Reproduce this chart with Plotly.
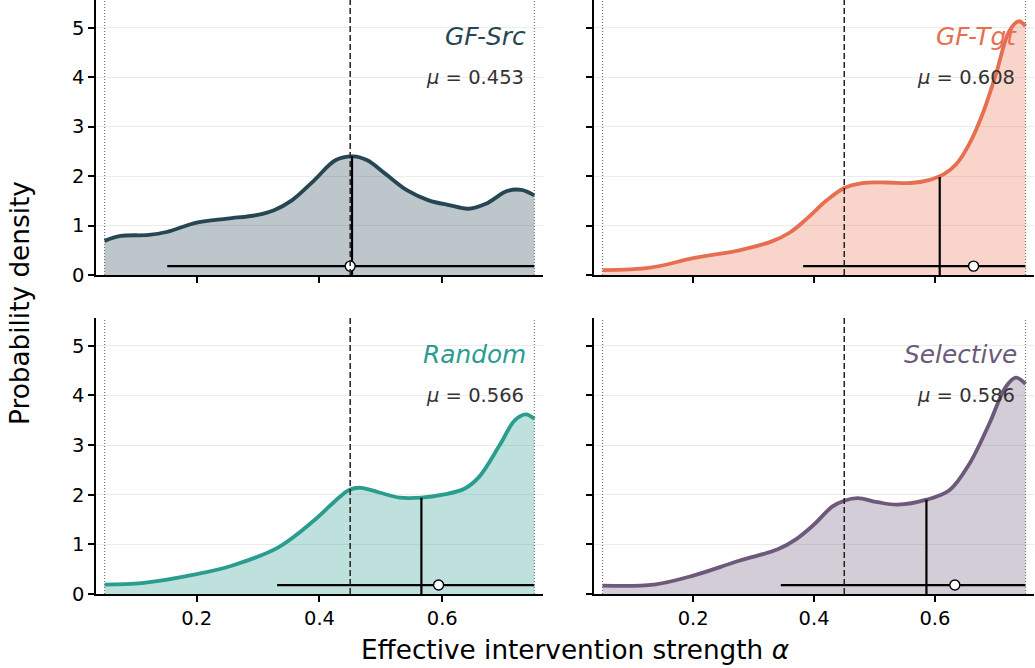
import plotly.graph_objects as go

# ---------------- data ----------------
methods = ["GF-Src", "GF-Tgt", "Random", "Selective"]
colors = ["#264653", "#E76F51", "#2A9D8F", "#6D597A"]
fills = ["rgba(38,70,83,0.3)", "rgba(231,111,81,0.3)", "rgba(42,157,143,0.3)", "rgba(109,89,122,0.3)"]

means = [0.453, 0.608, 0.566, 0.586]
mean_density = [2.40, 1.98, 1.94, 1.90]
medians = [0.450, 0.664, 0.594, 0.633]
ci_low = [0.152, 0.382, 0.331, 0.345]
ci_high = [0.750, 0.750, 0.750, 0.750]
threshold = 0.45
alpha_min, alpha_max = 0.05, 0.75

x_src = [0.05, 0.076, 0.122, 0.151, 0.2, 0.25, 0.297, 0.326, 0.355, 0.391, 0.426, 0.455, 0.478, 0.507, 0.543, 0.578, 0.613, 0.642, 0.671, 0.706, 0.729, 0.75]
d_src = [0.69, 0.79, 0.81, 0.87, 1.06, 1.14, 1.21, 1.31, 1.51, 1.91, 2.32, 2.40, 2.32, 2.05, 1.71, 1.51, 1.41, 1.34, 1.44, 1.70, 1.72, 1.61]

x_tgt = [0.05, 0.129, 0.2, 0.276, 0.33, 0.36, 0.39, 0.42, 0.45, 0.48, 0.52, 0.56, 0.59, 0.615, 0.636, 0.657, 0.679, 0.701, 0.723, 0.739, 0.75]
d_tgt = [0.10, 0.15, 0.34, 0.50, 0.68, 0.86, 1.16, 1.50, 1.76, 1.86, 1.87, 1.86, 1.92, 2.04, 2.25, 2.65, 3.26, 4.06, 4.93, 5.13, 5.03]

x_rnd = [0.05, 0.111, 0.2, 0.257, 0.333, 0.391, 0.426, 0.449, 0.467, 0.496, 0.531, 0.566, 0.601, 0.636, 0.66, 0.695, 0.718, 0.736, 0.75]
d_rnd = [0.19, 0.22, 0.40, 0.57, 0.94, 1.48, 1.88, 2.10, 2.14, 2.05, 1.94, 1.94, 2.00, 2.12, 2.36, 3.03, 3.50, 3.62, 3.53]

x_sel = [0.05, 0.135, 0.2, 0.276, 0.34, 0.37, 0.40, 0.43, 0.45, 0.472, 0.505, 0.538, 0.586, 0.624, 0.657, 0.69, 0.717, 0.734, 0.75]
d_sel = [0.17, 0.19, 0.37, 0.67, 0.90, 1.10, 1.40, 1.76, 1.88, 1.93, 1.85, 1.80, 1.90, 2.09, 2.62, 3.43, 4.17, 4.36, 4.23]

curves_x = [x_src, x_tgt, x_rnd, x_sel]
curves_y = [d_src, d_tgt, d_rnd, d_sel]

ci_y = 0.18
x_ticks = [0.2, 0.4, 0.6]
y_ticks = [0, 1, 2, 3, 4, 5]
x_range = [0.036, 0.764]
y_range = [0, 5.56]

# ---------------- figure ----------------
FONT = "DejaVu Sans"
fig = go.Figure()

axes = [("x", "y"), ("x2", "y2"), ("x3", "y3"), ("x4", "y4")]
xdomains = [[0, 0.4765], [0.531, 1.0], [0, 0.4765], [0.531, 1.0]]
ydomains = [[0.537, 1.0], [0.537, 1.0], [0, 0.4646], [0, 0.4646]]

for i, (xa, ya) in enumerate(axes):
    fig.add_trace(go.Scatter(x=curves_x[i], y=curves_y[i], xaxis=xa, yaxis=ya,
                             mode="lines", line=dict(color=colors[i], width=3.8, shape="spline", smoothing=1.0),
                             fill="tozeroy", fillcolor=fills[i], showlegend=False, hoverinfo="skip"))
    fig.add_trace(go.Scatter(x=[means[i], means[i]], y=[0, mean_density[i]], xaxis=xa, yaxis=ya,
                             mode="lines", line=dict(color="black", width=2.2), showlegend=False))
    fig.add_trace(go.Scatter(x=[ci_low[i], ci_high[i]], y=[ci_y, ci_y], xaxis=xa, yaxis=ya,
                             mode="lines", line=dict(color="black", width=2.2), showlegend=False))
    fig.add_trace(go.Scatter(x=[medians[i]], y=[ci_y], xaxis=xa, yaxis=ya, mode="markers",
                             marker=dict(color="white", size=10, line=dict(color="black", width=1.4)),
                             showlegend=False))

layout = dict(
    width=1035, height=668,
    margin=dict(l=96, r=1, t=0, b=74),
    paper_bgcolor="white", plot_bgcolor="white",
    font=dict(family=FONT, color="black", size=19),
    shapes=[], annotations=[],
)

for i, (xa, ya) in enumerate(axes):
    xkey = "xaxis" if xa == "x" else "xaxis" + xa[1:]
    ykey = "yaxis" if ya == "y" else "yaxis" + ya[1:]
    layout[xkey] = dict(domain=xdomains[i], anchor=ya, range=x_range, tickvals=x_ticks,
                        ticktext=[f"{v:.1f}" for v in x_ticks], showticklabels=(i >= 2),
                        showline=True, linecolor="black", linewidth=1.6, ticks="outside",
                        ticklen=6, tickwidth=1.6, tickcolor="black", showgrid=False, zeroline=False,
                        tickfont=dict(size=19.5, family=FONT))
    layout[ykey] = dict(domain=ydomains[i], anchor=xa, range=y_range, tickvals=y_ticks,
                        showticklabels=(i % 2 == 0),
                        showline=True, linecolor="black", linewidth=1.6, ticks="outside",
                        ticklen=6, tickwidth=1.6, tickcolor="black", showgrid=True,
                        gridcolor="#ececec", gridwidth=1, zeroline=False,
                        tickfont=dict(size=19.5, family=FONT))
    xd = xa + " domain"
    yd = ya + " domain"
    for xv in (alpha_min, alpha_max):
        layout["shapes"].append(dict(type="line", xref=xa, yref=yd, x0=xv, x1=xv, y0=0, y1=1,
                                     line=dict(color="#777777", width=1.2, dash="1px,2px"), layer="above"))
    layout["shapes"].append(dict(type="line", xref=xa, yref=yd, x0=threshold, x1=threshold, y0=0, y1=1,
                                 line=dict(color="#222222", width=1.5, dash="6px,3px"), layer="above"))
    layout["annotations"].append(dict(xref=xd, yref=yd, x=0.966, y=0.868, xanchor="right", yanchor="middle",
                                      text=f"<i>{methods[i]}</i>", showarrow=False,
                                      font=dict(size=24.8, color=colors[i], family=FONT)))
    layout["annotations"].append(dict(xref=xd, yref=yd, x=0.961, y=0.72, xanchor="right", yanchor="middle",
                                      text=f"<i>μ</i> = {means[i]:.3f}", showarrow=False,
                                      font=dict(size=19.5, color="#333333", family=FONT)))

layout["annotations"].append(dict(xref="paper", yref="paper", x=0.511, y=-0.094, xanchor="center",
                                  yanchor="middle", showarrow=False,
                                  text="Effective intervention strength <i>α</i>",
                                  font=dict(size=26.3, family=FONT)))
layout["annotations"].append(dict(xref="paper", yref="paper", x=-0.081, y=0.49, xanchor="center",
                                  yanchor="middle", showarrow=False, textangle=-90,
                                  text="Probability density", font=dict(size=26.3, family=FONT)))

fig.update_layout(**layout)
fig.write_html("out.html")
